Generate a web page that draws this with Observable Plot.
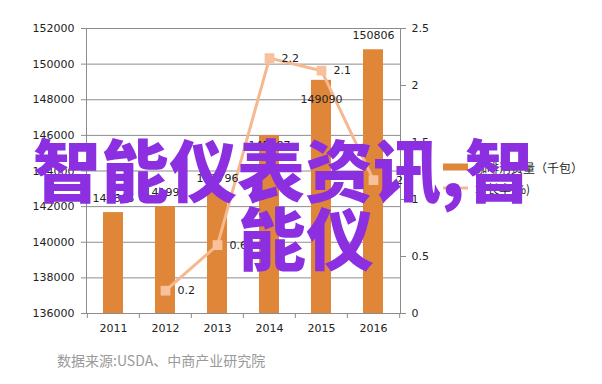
<!DOCTYPE html>
<html>
<head>
<meta charset="utf-8">
<script src="https://cdn.jsdelivr.net/npm/d3@7"></script>
<script src="https://cdn.jsdelivr.net/npm/@observablehq/plot@0.6"></script>
<style>
  html, body { margin: 0; padding: 0; background: #fff; }
  #wrap { position: relative; width: 602px; height: 384px; overflow: hidden; background: #fff; }
  #chart { position: absolute; left: 0; top: 0; }
  .legend { position: absolute; left: 443px; font-family: "Noto Sans CJK SC", sans-serif; font-size: 12px; color: #222; }
  .legend .row { position: absolute; left: 0; display: flex; align-items: center; white-space: nowrap; height: 16px; }
  .legend svg { margin-right: 5px; }
  .caption { position: absolute; left: 57px; top: 350px; font-family: "Noto Sans CJK SC", sans-serif; font-size: 14px; color: #9a9a9a; white-space: nowrap; }
  .wm { position: absolute; font-family: "Noto Sans CJK SC", sans-serif; font-weight: 900; font-size: 68px; line-height: 68px; color: #8B2FE0; white-space: nowrap; }
</style>
</head>
<body>
<div id="wrap">
  <div id="chart"></div>
  <div class="legend">
    <div class="row" id="leg1" style="top:159px"></div>
    <div class="row" id="leg2" style="top:180px"></div>
  </div>
  <div class="caption" id="caption"></div>
  <div class="wm" id="wm1" style="left:33px; top:134px"></div>
  <div class="wm" id="wm2" style="left:238px; top:202px"></div>
</div>
<script>
const years = ["2011", "2012", "2013", "2014", "2015", "2016"];
const consumption = [141665, 141995, 142796, 145987, 149090, 150806];
const growth = [null, 0.2, 0.6, 2.24, 2.13, 1.17];
const leftTicks = [136000, 138000, 140000, 142000, 144000, 146000, 148000, 150000, 152000];
const rightTicks = [0, 0.5, 1, 1.5, 2, 2.5];
const seriesNames = ["咖啡消费量（千包）", "增长率(%)"];
const captionText = "数据来源:USDA、中商产业研究院";
const watermark = ["智能仪表资讯,智", "能仪"];

const yMin = leftTicks[0], yMax = leftTicks[leftTicks.length - 1];
const rMax = rightTicks[rightTicks.length - 1];
const toLeft = v => yMin + v * (yMax - yMin) / rMax;
const fromLeft = d => +((d - yMin) * rMax / (yMax - yMin)).toFixed(2);

const data = years.map((year, i) => ({year, value: consumption[i], growth: growth[i]}));
const lineData = data.filter(d => d.growth != null);
const belowLabel = new Set(["2014", "2015"]);

const barColor = "#DF8639";
const lineColor = "#F5B88F";
const gridColor = "#8c8c8c";

const W = 602, H = 340, mL = 86, mR = 202, mT = 28, mB = 27;
const half = (W - mL - mR) / years.length / 2;

const chart = Plot.plot({
  width: W, height: H,
  marginLeft: mL, marginRight: mR, marginTop: mT, marginBottom: mB,
  style: {fontFamily: "DejaVu Sans, sans-serif", fontSize: "11px", color: "#222", background: "#fff"},
  x: {type: "band", domain: years, paddingInner: 0.62, paddingOuter: 0.31, label: null},
  y: {domain: [yMin, yMax], label: null},
  marks: [
    Plot.ruleY(leftTicks, {stroke: gridColor, strokeWidth: 1}),
    Plot.barY(data, {x: "year", y1: yMin, y2: "value", fill: barColor}),
    Plot.frame({stroke: gridColor}),
    Plot.line(lineData, {x: "year", y: d => toLeft(d.growth), stroke: lineColor, strokeWidth: 3}),
    Plot.dot(lineData, {x: "year", y: d => toLeft(d.growth), symbol: "square", r: 5.5, fill: "#F8C19C", stroke: null}),
    Plot.text(lineData, {x: "year", y: d => toLeft(d.growth), text: d => d.growth.toFixed(1), dx: 12, textAnchor: "start", fill: "#222", fontSize: 11}),
    Plot.text(data.filter(d => !belowLabel.has(d.year)), {x: "year", y: "value", text: d => String(d.value), dy: -14, fill: "#222", fontSize: 11}),
    Plot.text(data.filter(d => d.year === "2014"), {x: "year", y: "value", text: d => String(d.value), dy: 10, fill: "#222", fontSize: 11}),
    Plot.text(data.filter(d => d.year === "2015"), {x: "year", y: "value", text: d => String(d.value), dy: 19, fill: "#222", fontSize: 11}),
    Plot.axisY({anchor: "left", ticks: leftTicks, tickFormat: d => String(d), tickSize: 5, tickPadding: 7, stroke: gridColor, fill: "#222", label: null, fontSize: 11}),
    Plot.axisY({anchor: "right", ticks: rightTicks.map(toLeft), tickFormat: d => String(fromLeft(d)), tickSize: 5, tickPadding: 6, stroke: gridColor, fill: "#222", label: null, fontSize: 11}),
    Plot.axisX({tickSize: 5, tickFormat: () => "", dx: -half, stroke: gridColor, label: null}),
    Plot.axisX({ticks: [years[years.length - 1]], tickSize: 5, tickFormat: () => "", dx: half, stroke: gridColor, label: null}),
    Plot.axisX({tickSize: 0, tickPadding: 11, fill: "#222", label: null, fontSize: 11})
  ]
});
document.getElementById("chart").appendChild(chart);

document.getElementById("leg1").innerHTML =
  `<svg width="27" height="10"><rect x="0" y="1.5" width="25" height="7" fill="${barColor}"/></svg><span>${seriesNames[0]}</span>`;
document.getElementById("leg2").innerHTML =
  `<svg width="27" height="10"><line x1="0" x2="25" y1="5" y2="5" stroke="${lineColor}" stroke-width="3"/><rect x="8" y="1" width="8" height="8" fill="#F8C19C"/></svg><span>${seriesNames[1]}</span>`;
document.getElementById("caption").textContent = captionText;
document.getElementById("wm1").textContent = watermark[0];
document.getElementById("wm2").textContent = watermark[1];
</script>
</body>
</html>
